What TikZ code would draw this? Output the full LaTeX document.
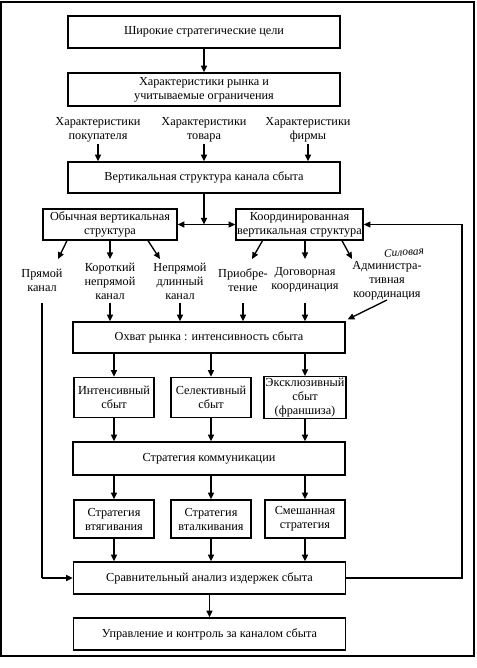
\documentclass[tikz,border=0pt]{standalone}
\usepackage{fontspec}
\setmainfont{Liberation Serif}
\usetikzlibrary{arrows.meta, positioning, calc}

\begin{document}
\begin{tikzpicture}[x=0.75pt, y=-0.75pt, line width=1pt,
    every node/.style={font=\fontsize{9.2}{10.5}\selectfont, align=center, inner sep=1pt},
    box/.style={draw, minimum width=204pt, minimum height=24pt},
    smallbox/.style={draw, minimum width=60pt, minimum height=30pt},
    arr/.style={-{Triangle[length=5pt, width=4.5pt]}},
    dblarr/.style={{Triangle[length=5pt, width=4.5pt]}-{Triangle[length=5pt, width=4.5pt]}}]
    \useasboundingbox (0,0) rectangle (476,668);
    \draw[line width=1.4pt] (1,2) rectangle (474,656);

    \node[box] (goals) at (204,32) {Широкие стратегические цели};
    \node[box, minimum height=24.75pt] (market) at (204,89.5) {Характеристики рынка и\\учитываемые ограничения};
    \node (buyer) at (98,130) {Характеристики\\покупателя};
    \node (product) at (204,130) {Характеристики\\товара};
    \node (firm) at (308,130) {Характеристики\\фирмы};
    \node[box, minimum height=23.25pt] (vert) at (204,177.5) {Вертикальная структура канала сбыта};
    \node[draw, minimum width=100.5pt, minimum height=23.25pt] (usual) at (110,224.5) {Обычная вертикальная\\структура};
    \node[draw, minimum width=95.25pt, minimum height=23.25pt] (coord) at (299.5,224.5) {Координированная\\вертикальная структура};

    \node (direct) at (42,280) {Прямой\\канал};
    \node (short) at (110,281) {Короткий\\непрямой\\канал};
    \node (long) at (180,281) {Непрямой\\длинный\\канал};
    \node (acquire) at (243,280) {Приобре-\\тение};
    \node (contract) at (305,280) {Договорная\\координация};
    \node (admin) at (387,281) {Администра-\\тивная\\координация};
    \node[font=\fontsize{8.5}{8.5}\selectfont\itshape, rotate=4] (note) at (404,252) {Силовая};
    \coordinate (tips) at (0,259);
    \coordinate (tails) at (0,303);
    \coordinate (loop) at (462,0);

    \node[box, minimum height=23.25pt] (coverage) at (209,337.5) {Охват рынка : интенсивность сбыта};
    \node[smallbox] (intens) at (114,397.5) {Интенсивный\\сбыт};
    \node[smallbox] (select) at (211,397.5) {Селективный\\сбыт};
    \node[smallbox] (exclus) at (305,397.5) {Эксклюзивный\\сбыт\\(франшиза)};
    \node[box, minimum height=24.75pt] (comm) at (209,458.5) {Стратегия коммуникации};
    \node[smallbox, minimum height=28.5pt] (pull) at (114,519) {Стратегия\\втягивания};
    \node[smallbox, minimum height=28.5pt] (push) at (211,519) {Стратегия\\вталкивания};
    \node[smallbox, minimum height=28.5pt] (mixed) at (305,519) {Смешанная\\стратегия};
    \node[box] (compare) at (209.5,578) {Сравнительный анализ издержек сбыта};
    \node[box] (manage) at (209.5,634) {Управление и контроль за каналом сбыта};

    \draw[arr] (goals) -- (market);
    \draw[arr] (buyer.south) -- (buyer.south |- vert.north);
    \draw[arr] (product.south) -- (product.south |- vert.north);
    \draw[arr] (firm.south) -- (firm.south |- vert.north);
    \draw[arr] (vert.south) -- (vert.south |- usual.east);
    \draw[dblarr] (usual.east) -- (coord.west);

    \draw[arr] ($(usual.south)+(-43,0)$) -- ($(direct |- tips)+(16,0)$);
    \draw[arr] (short |- usual.south) -- (short |- tips);
    \draw[arr] ($(usual.south)+(38,0)$) -- ($(long |- tips)+(-20,0)$);
    \draw[arr] ($(coord.south)+(-37,0)$) -- ($(acquire |- tips)+(9,0)$);
    \draw[arr] (contract |- coord.south) -- (contract |- tips);
    \draw[arr] ($(coord.south)+(42.5,0)$) -- ($(admin |- tips)+(-35,0)$);

    \draw (direct |- tails) -- (direct |- compare.west);
    \draw[arr] (direct |- compare.west) -- (compare.west);
    \draw[arr] (short |- tails) -- (short |- coverage.north);
    \draw[arr] (long |- tails) -- (long |- coverage.north);
    \draw[arr] (acquire |- tails) -- (acquire |- coverage.north);
    \draw[arr] (contract |- tails) -- (contract |- coverage.north);
    \draw[arr] ($(admin |- tails)+(0,-3)$) -- ($(coverage.north east)+(2,-2)$);

    \draw[arr] (intens |- coverage.south) -- (intens);
    \draw[arr] (select |- coverage.south) -- (select);
    \draw[arr] (exclus |- coverage.south) -- (exclus);
    \draw[arr] (intens) -- (intens |- comm.north);
    \draw[arr] (select) -- (select |- comm.north);
    \draw[arr] (exclus) -- (exclus |- comm.north);
    \draw[arr] (pull |- comm.south) -- (pull);
    \draw[arr] (push |- comm.south) -- (push);
    \draw[arr] (mixed |- comm.south) -- (mixed);
    \draw[arr] (pull) -- (pull |- compare.north);
    \draw[arr] (push) -- (push |- compare.north);
    \draw[arr] (mixed) -- (mixed |- compare.north);
    \draw[arr] (compare.east) -- (loop |- compare.east) -- (loop |- coord.east) -- (coord.east);
    \draw[arr] (compare) -- (manage);
\end{tikzpicture}
\end{document}
